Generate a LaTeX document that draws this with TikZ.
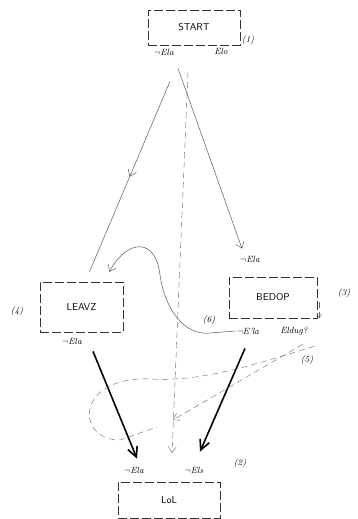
\documentclass[tikz,border=0pt]{standalone}
\usetikzlibrary{arrows.meta,decorations.markings}
\begin{document}
\begin{tikzpicture}[x=1pt,y=-1pt,
  state/.style={draw=black!80, dash pattern=on 9pt off 3pt, line width=0.5pt, font=\sffamily, inner sep=0pt},
  lbl/.style={font=\small\itshape, inner sep=1pt},
  flow/.style={-{Straight Barb[length=6pt,width=9pt]}, line width=0.45pt, black!70},
  midflow/.style={line width=0.45pt, black!70, decoration={markings, mark=at position 0.5 with {\arrow{Straight Barb[length=6pt,width=9pt]}}}, postaction=decorate},
  heavy/.style={-{Straight Barb[length=10pt,width=10pt]}, line width=1.6pt},
  hint/.style={dash pattern=on 6pt off 4pt, line width=0.4pt, black!60}]
  \useasboundingbox (0,0) rectangle (358,519);

  % states
  \node[state, minimum width=92pt, minimum height=35pt] (start) at (194,27.5) {START};
  \node[state, minimum width=83pt, minimum height=50pt] (leavz) at (81.5,307) {LEAVZ};
  \node[state, minimum width=88pt, minimum height=41pt] (bedop) at (273,297.5) {BEDOP};
  \node[state, minimum width=102pt, minimum height=36pt] (lol) at (169,500) {LoL};

  % numbers
  \node[lbl] (n1) at (248,40) {(1)};
  \node[lbl] (n2) at (240,463) {(2)};
  \node[lbl] (n3) at (344,293) {(3)};
  \node[lbl] (n4) at (17,311) {(4)};
  \node[lbl] (n5) at (307,360) {(5)};
  \node[lbl] (n6) at (209,320) {(6)};

  % conditions
  \node[lbl] (startnela) at (164,52) {$\neg$Ela};
  \node[lbl] (startelo) at (221,51) {Elo};
  \node[lbl] (leavznela) at (72,341) {$\neg$Ela};
  \node[lbl] (bedopnela) at (250,259) {$\neg$Ela};
  \node[lbl] (bedopnela2) at (248,331) {$\neg$E'la};
  \node[lbl] (bedopeldug) at (294,331) {Eldug?};
  \node[lbl] (lolnela) at (134,470) {$\neg$Ela};
  \node[lbl] (lolnels) at (194,470) {$\neg$Els};

  \coordinate (dtop) at (188,72);
  \coordinate (dend) at (172,453);

  % transitions
  \draw[midflow] ([xshift=6pt,yshift=-25pt]startnela.south) -- ([xshift=8pt,yshift=10pt]leavz.north);
  \draw[flow] ([xshift=14pt,yshift=-12pt]startnela.south) -- ([xshift=-8pt,yshift=6pt]bedopnela.north);
  \draw[hint, -{Straight Barb[length=6pt,width=8pt]}] (dtop) -- (dend);
  \draw[flow] (bedopnela2.west) -- (210,333) .. controls (185,336) and (165,310) .. (160,275)
     .. controls (156,238) and (128,238) .. ([xshift=-14pt,yshift=10pt]leavz.north east);
  \draw[heavy] ([xshift=21pt,yshift=-6pt]leavznela.south) -- ([xshift=3pt,yshift=7pt]lolnela.north);
  \draw[heavy] ([xshift=-3pt,yshift=-13pt]bedopnela2.south) -- ([xshift=6pt,yshift=14pt]lolnels.north);

  % dashed hints
  \draw[hint, -{Straight Barb[length=6pt,width=8pt]}] ([xshift=3pt,yshift=10pt]n5.north west) -- ([xshift=1pt,yshift=33pt]dend);
  \draw[hint] ([yshift=8pt]n5.north east) .. controls (250,366) and (200,382) .. (150,379)
     .. controls (75,376) and (75,440) .. (120,440) -- (157,427);
  \draw[hint, -{Straight Barb[length=4pt,width=5pt]}] ([xshift=2pt,yshift=-4pt]bedop.east) -- ([xshift=2pt]bedop.south east);
\end{tikzpicture}
\end{document}
